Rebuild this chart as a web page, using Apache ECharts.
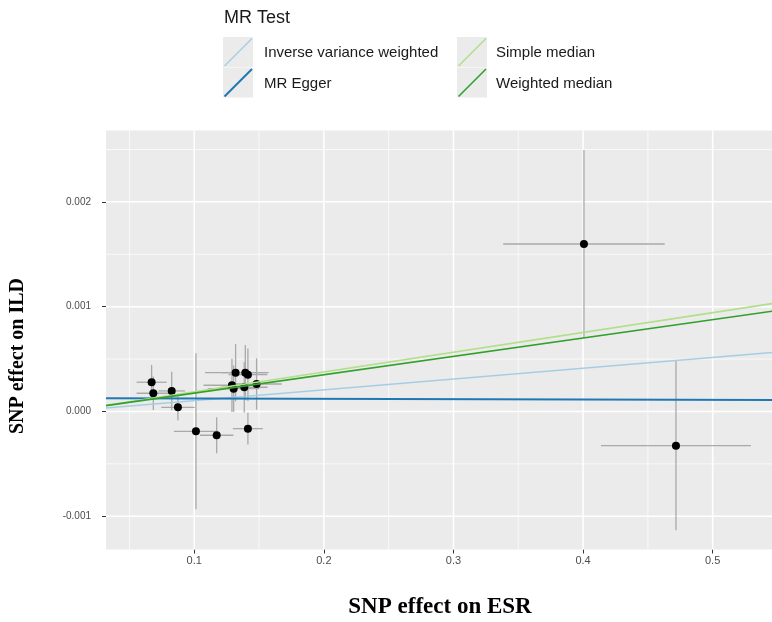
<!DOCTYPE html>
<html>
<head>
<meta charset="utf-8">
<script src="https://cdn.jsdelivr.net/npm/echarts@6/dist/echarts.min.js"></script>
<style>
html, body { margin: 0; padding: 0; background: #fff; }
#chart { width: 772px; height: 622px; }
</style>
</head>
<body>
<div id="chart"></div>
<script>
// SNP effects on ESR (x) and on ILD (y), with their error bar half-widths
var snpX   = [0.0671, 0.0684, 0.0826, 0.0874, 0.1013, 0.1173, 0.1319, 0.1394, 0.1414, 0.1291, 0.1304, 0.1386, 0.1481, 0.1414, 0.4007, 0.4717];
var snpY   = [0.000279, 0.000174, 0.000196, 0.000040, -0.000189, -0.000227, 0.000370, 0.000370, 0.000351, 0.000250, 0.000218, 0.000231, 0.000262, -0.000164, 0.001598, -0.000326];
var snpXse = [0.0116, 0.0129, 0.0103, 0.0129, 0.0170, 0.0129, 0.0236, 0.0180, 0.0150, 0.0219, 0.0200, 0.0180, 0.0193, 0.0116, 0.0623, 0.0579];
var snpYse = [0.000165, 0.000159, 0.000184, 0.000127, 0.000744, 0.000172, 0.000274, 0.000264, 0.000250, 0.000254, 0.000220, 0.000240, 0.000245, 0.000152, 0.000897, 0.000808];

// MR methods: fitted lines y = intercept + slope * x
var methods    = ['Inverse variance weighted', 'MR Egger', 'Simple median', 'Weighted median'];
var slopes     = [0.00103, -0.000031, 0.001885, 0.001752];
var intercepts = [0, 0.000127, 0, 0];

var xTicks = [0.1, 0.2, 0.3, 0.4, 0.5];
var xMinor = [0.05, 0.15, 0.25, 0.35, 0.45];
var yTicks = [-0.001, 0, 0.001, 0.002];
var yMinor = [-0.0005, 0.0005, 0.0015, 0.0025];

var xMin = 0.0319, xMax = 0.5458;
var yMin = -0.001317, yMax = 0.002681;

var colors = ['#a6cee3', '#1f78b4', '#b2df8a', '#33a02c'];
var widths = [1.4, 2, 1.6, 1.6];

var chart = echarts.init(document.getElementById('chart'));

/**网格线*/
var gridData = [];
xTicks.forEach(function (v) { gridData.push([0, v, 1]); });
xMinor.forEach(function (v) { gridData.push([0, v, 0]); });
yTicks.forEach(function (v) { gridData.push([1, v, 1]); });
yMinor.forEach(function (v) { gridData.push([1, v, 0]); });

var barData = snpX.map(function (x, i) { return [x, snpY[i], snpXse[i], snpYse[i]]; });
var pointData = snpX.map(function (x, i) { return [x, snpY[i]]; });

var lineSeries = methods.map(function (name, i) {
    return {
        name: name,
        type: 'line',
        showSymbol: false,
        silent: true,
        z: 5,
        lineStyle: { color: colors[i], width: widths[i] },
        data: [
            [xMin, intercepts[i] + slopes[i] * xMin],
            [xMax, intercepts[i] + slopes[i] * xMax]
        ]
    };
});

/**图例*/
var legendGraphics = [{
    type: 'text', left: 224, top: 9,
    style: { text: 'MR Test', font: '18px "Liberation Sans", Arial', fill: '#1a1a1a' }
}];
methods.forEach(function (name, i) {
    var col = Math.floor(i / 2), row = i % 2;
    var kx = [223, 457][col], ky = 37 + row * 30.5;
    legendGraphics.push({
        type: 'rect', shape: { x: kx, y: ky, width: 30, height: 30 },
        style: { fill: '#ebebeb' }
    });
    legendGraphics.push({
        type: 'line', shape: { x1: kx + 1.5, y1: ky + 29, x2: kx + 29, y2: ky + 1.5 },
        style: { stroke: colors[i], lineWidth: widths[i] }
    });
    legendGraphics.push({
        type: 'text', x: [264, 496][col], y: ky + 16,
        style: { text: name, font: '15px "Liberation Sans", Arial', fill: '#1a1a1a', verticalAlign: 'middle' }
    });
});
legendGraphics.push({
    type: 'text', x: 18, y: 356, rotation: Math.PI / 2,
    style: { text: 'SNP effect on ILD', font: 'bold 20px "Liberation Serif", "Times New Roman"', fill: '#000', align: 'center', verticalAlign: 'middle' }
});
legendGraphics.push({
    type: 'text', x: 440, y: 607,
    style: { text: 'SNP effect on ESR', font: 'bold 23px "Liberation Serif", "Times New Roman"', fill: '#000', align: 'center', verticalAlign: 'middle' }
});

chart.setOption({
    animation: false,
    grid: { left: 106, right: 0, top: 130.5, bottom: 72.5, show: true, backgroundColor: '#ebebeb', borderWidth: 0 },
    xAxis: {
        type: 'value', min: xMin, max: xMax,
        axisLine: { show: true, onZero: false, lineStyle: { color: 'rgba(0,0,0,0)' } },
        axisTick: { show: true, customValues: xTicks, length: 4, lineStyle: { color: '#333' } },
        axisLabel: { customValues: xTicks, margin: 6, color: '#4d4d4d', fontSize: 11, fontFamily: 'Liberation Sans',
            formatter: function (v) { return String(Math.round(v * 10) / 10); } },
        splitLine: { show: false }
    },
    yAxis: {
        type: 'value', min: yMin, max: yMax,
        axisLine: { show: false, onZero: false },
        axisTick: { show: true, customValues: yTicks, length: 4, lineStyle: { color: '#333' } },
        axisLabel: { customValues: yTicks, margin: 15, color: '#4d4d4d', fontSize: 10, fontFamily: 'Liberation Sans',
            formatter: function (v) { return (Math.round(v * 1e6) / 1e6).toFixed(3); } },
        splitLine: { show: false }
    },
    graphic: legendGraphics,
    series: [{
        type: 'custom',
        silent: true,
        z: 1,
        data: gridData,
        encode: { x: 1, y: 1 },
        renderItem: function (params, api) {
            var cs = params.coordSys;
            var dir = api.value(0), v = api.value(1), major = api.value(2);
            var shape;
            if (dir === 0) {
                var px = api.coord([v, 0])[0];
                shape = { x1: px, y1: cs.y, x2: px, y2: cs.y + cs.height };
            } else {
                var py = api.coord([0.1, v])[1];
                shape = { x1: cs.x, y1: py, x2: cs.x + cs.width, y2: py };
            }
            return { type: 'line', shape: shape, style: { stroke: '#ffffff', lineWidth: major ? 1.5 : 0.7 } };
        }
    }, {
        type: 'custom',
        silent: true,
        z: 2,
        data: barData,
        renderItem: function (params, api) {
            var x = api.value(0), y = api.value(1), ex = api.value(2), ey = api.value(3);
            var l = api.coord([x - ex, y]), r = api.coord([x + ex, y]);
            var t = api.coord([x, y + ey]), b = api.coord([x, y - ey]);
            var st = { stroke: '#a9a9a9', lineWidth: 1.3 };
            return {
                type: 'group', children: [
                    { type: 'line', shape: { x1: l[0], y1: l[1], x2: r[0], y2: r[1] }, style: st },
                    { type: 'line', shape: { x1: t[0], y1: t[1], x2: b[0], y2: b[1] }, style: st }
                ]
            };
        }
    }, {
        type: 'scatter',
        silent: true,
        z: 3,
        symbolSize: 8,
        itemStyle: { color: '#000', opacity: 1 },
        data: pointData
    }].concat(lineSeries)
});
</script>
</body>
</html>
